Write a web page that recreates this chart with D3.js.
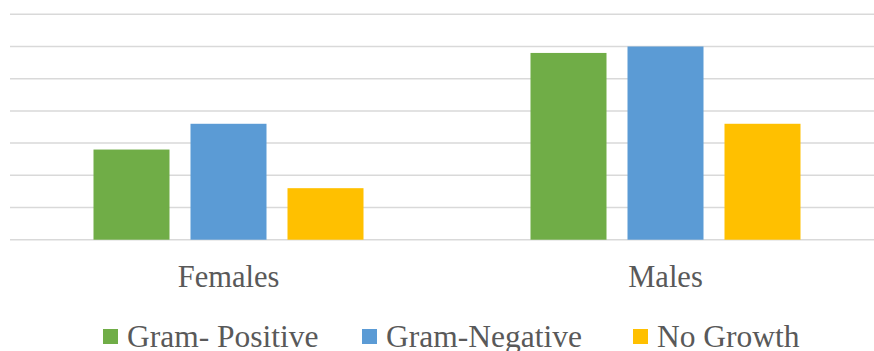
<!DOCTYPE html>
<html>
<head>
<meta charset="utf-8">
<script src="https://cdn.jsdelivr.net/npm/d3@7"></script>
<style>
  html, body { margin: 0; padding: 0; background: #fff; }
  svg { display: block; }
  text { font-family: "Liberation Serif", "Times New Roman", "DejaVu Serif", serif; }
</style>
</head>
<body>
<div id="chart"></div>
<script>
  const categories = ["Females", "Males"];
  const seriesNames = ["Gram- Positive", "Gram-Negative", "No Growth"];
  const gramPositive = [14, 29];
  const gramNegative = [18, 30];
  const noGrowth = [8, 18];
  const yTicks = [0, 5, 10, 15, 20, 25, 30, 35];

  const colors = ["#70AD47", "#5B9BD5", "#FFC000"];
  const seriesValues = [gramPositive, gramNegative, noGrowth];

  const width = 874;
  const height = 351;
  const plot = { left: 10, right: 884, top: 14.3, bottom: 239.7 };

  const svg = d3.select("#chart")
    .append("svg")
    .attr("width", width)
    .attr("height", height);

  const x0 = d3.scaleBand()
    .domain(categories)
    .range([plot.left, plot.right])
    .padding(0);

  const groupWidth = 270;
  const x1 = d3.scaleBand()
    .domain(seriesNames)
    .range([(x0.bandwidth() - groupWidth) / 2, (x0.bandwidth() + groupWidth) / 2])
    .paddingInner(21 / 97)
    .paddingOuter(0);

  const y = d3.scaleLinear()
    .domain([0, 35])
    .range([plot.bottom, plot.top]);

  // gridlines
  svg.append("g")
    .selectAll("line")
    .data(yTicks)
    .enter()
    .append("line")
    .attr("x1", plot.left)
    .attr("x2", plot.right)
    .attr("y1", d => y(d))
    .attr("y2", d => y(d))
    .attr("stroke", "#d9d9d9")
    .attr("stroke-width", 1.5);

  // bars
  const rows = categories.map((c, i) => ({
    cat: c,
    vals: seriesNames.map((s, j) => ({ s: s, v: seriesValues[j][i], color: colors[j] }))
  }));

  const groups = svg.selectAll(".grp")
    .data(rows)
    .enter()
    .append("g")
    .attr("class", "grp")
    .attr("transform", d => `translate(${x0(d.cat)},0)`);

  groups.selectAll("rect")
    .data(d => d.vals)
    .enter()
    .append("rect")
    .attr("x", d => x1(d.s))
    .attr("y", d => y(d.v))
    .attr("width", x1.bandwidth())
    .attr("height", d => y(0) - y(d.v))
    .attr("fill", d => d.color);

  // category labels
  svg.append("g")
    .selectAll("text")
    .data(categories)
    .enter()
    .append("text")
    .attr("x", d => x0(d) + x0.bandwidth() / 2)
    .attr("y", 287)
    .attr("text-anchor", "middle")
    .style("font-size", "30.5px")
    .style("fill", "#595959")
    .text(d => d);

  // legend
  const legendX = [103, 362, 633];
  const legend = svg.append("g")
    .selectAll("g")
    .data(seriesNames)
    .enter()
    .append("g")
    .attr("transform", (d, i) => `translate(${legendX[i]},0)`);

  legend.append("rect")
    .attr("x", 0)
    .attr("y", 329)
    .attr("width", 15)
    .attr("height", 15)
    .attr("fill", (d, i) => colors[i]);

  legend.append("text")
    .attr("x", 24)
    .attr("y", 347)
    .style("font-size", "31.5px")
    .style("fill", "#595959")
    .text(d => d);
</script>
</body>
</html>
